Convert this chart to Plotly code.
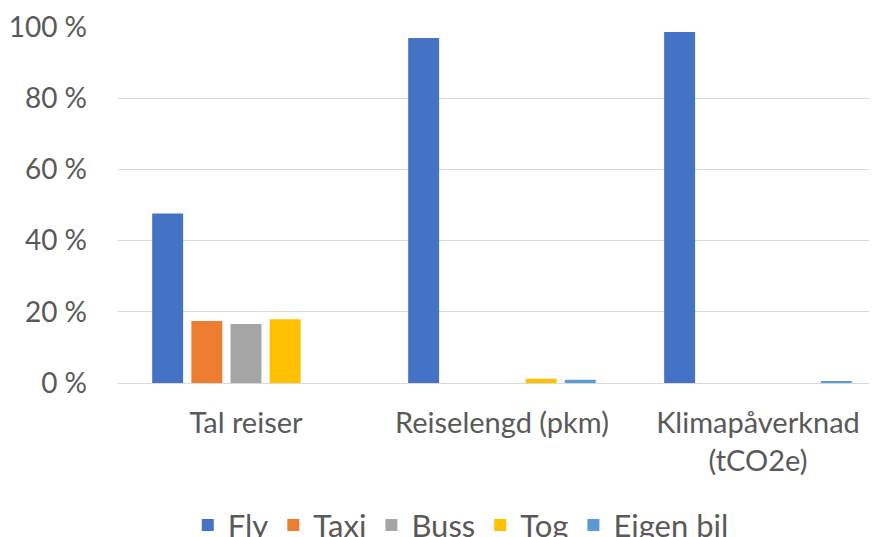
import plotly.graph_objects as go

categories = ["Tal reiser", "Reiselengd (pkm)", "Klimapåverknad<br>(tCO2e)"]
series_names = ["Fly", "Taxi", "Buss", "Tog", "Eigen bil"]
fly = [47.6, 96.9, 98.6]
taxi = [17.4, 0.0, 0.0]
buss = [16.6, 0.0, 0.0]
tog = [17.9, 1.2, 0.0]
eigen_bil = [0.0, 0.9, 0.45]
colors = ["#4472C4", "#ED7D31", "#A5A5A5", "#FFC000", "#5B9BD5"]
y_ticks = [0, 20, 40, 60, 80, 100]
y_ticktext = ["0 %", "20 %", "40 %", "60 %", "80 %", "100 %"]

FONT = "Lato"
TXT = "#595959"
fig = go.Figure()
for name, vals, c in zip(series_names, [fly, taxi, buss, tog, eigen_bil], colors):
    fig.add_trace(go.Bar(name=name, x=categories, y=vals, marker_color=c,
                         marker_line_width=0))

# the page body has an 8px margin, so the figure is sized to fill the rest
fig.update_layout(
    width=869, height=529,
    margin=dict(l=110, r=0, t=19, b=154, autoexpand=False),
    paper_bgcolor="white", plot_bgcolor="white",
    barmode="group", bargap=0.235, bargroupgap=0.21,
    font=dict(family=FONT, size=28, color=TXT),
    showlegend=True,
    legend=dict(orientation="h", xref="container", x=0.521, xanchor="center",
                yref="container", y=0.022, yanchor="middle",
                font=dict(size=31, color=TXT), itemwidth=30,
                traceorder="normal"),
)
fig.update_xaxes(range=[-0.5, 2.465], showgrid=False, showline=False,
                 ticks="", tickfont=dict(size=29, color=TXT),
                 ticklabelstandoff=20, automargin=False)
fig.update_yaxes(range=[0, 100], tickvals=y_ticks, ticktext=y_ticktext,
                 gridcolor="#D9D9D9", gridwidth=1.3, zeroline=True,
                 zerolinecolor="#D9D9D9", zerolinewidth=1.3,
                 tickfont=dict(size=28, color=TXT),
                 ticklabelstandoff=30, showline=False, ticks="", automargin=False)
fig.write_html("out.html")
